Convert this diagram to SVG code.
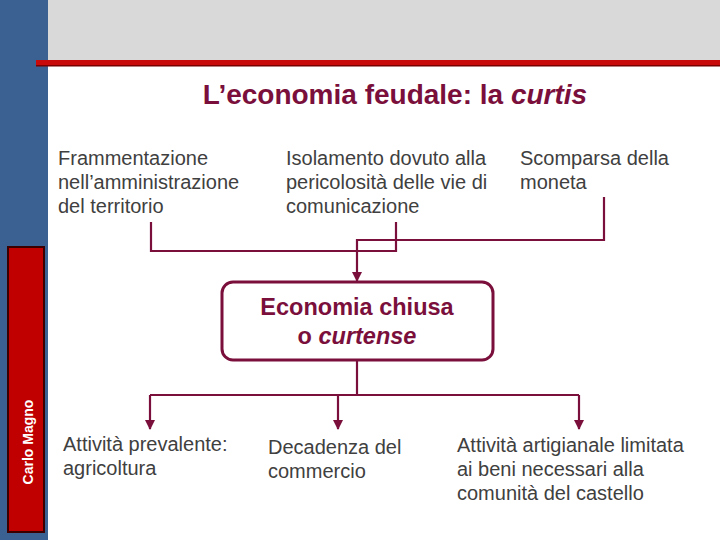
<svg xmlns="http://www.w3.org/2000/svg" width="720" height="540" viewBox="0 0 720 540">
<defs>
<style>
.t{font-family:"Liberation Sans",Arial,sans-serif;font-size:20px;fill:#404040}
.m{fill:#7a0f3c}
.c{fill:none;stroke:#7a0f3c;stroke-width:2.2}
</style>
<marker id="ah" viewBox="0 0 10 10" refX="9" refY="5" markerWidth="10" markerHeight="10" markerUnits="userSpaceOnUse" orient="auto">
<path d="M0,0 L10,5 L0,10 Z" fill="#7a0f3c"/>
</marker>
</defs>
<rect width="720" height="540" fill="#ffffff"/>
<g id="frame">
<rect x="0" y="0" width="48" height="540" fill="#3a6191"/>
<rect x="48" y="0" width="672" height="61" fill="#d9d9d9"/>
<rect x="36" y="60" width="684" height="6" fill="#c80a0a"/>
<rect x="36" y="65" width="684" height="1.5" fill="#7a0000"/>
<rect x="8" y="247" width="36" height="285" fill="#c00000" stroke="#3a0000" stroke-width="2"/>
<text x="0" y="0" transform="translate(33,442) rotate(-90)" text-anchor="middle" font-family="'Liberation Sans',Arial,sans-serif" font-size="14" font-weight="bold" fill="#ffffff">Carlo Magno</text>
</g>
<g id="title">
<text x="395" y="104" text-anchor="middle" font-family="'Liberation Sans',Arial,sans-serif" font-size="28" font-weight="bold" class="m">L’economia feudale: la <tspan font-style="italic">curtis</tspan></text>
</g>
<g id="connectors">
<polyline class="c" points="151,222 151,251 396,251 396,222"/>
<polyline class="c" points="604,197 604,240 357,240 357,281" marker-end="url(#ah)"/>
<line class="c" x1="357" y1="360" x2="357" y2="395"/>
<line class="c" x1="150" y1="395" x2="579" y2="395"/>
<line class="c" x1="150" y1="395" x2="150" y2="429" marker-end="url(#ah)"/>
<line class="c" x1="338" y1="395" x2="338" y2="429" marker-end="url(#ah)"/>
<line class="c" x1="579" y1="395" x2="579" y2="429" marker-end="url(#ah)"/>
</g>
<g id="n1">
<text class="t" x="58" y="165">Frammentazione</text>
<text class="t" x="58" y="189">nell’amministrazione</text>
<text class="t" x="58" y="213">del territorio</text>
</g>
<g id="n2">
<text class="t" x="286" y="165">Isolamento dovuto alla</text>
<text class="t" x="286" y="189">pericolosità delle vie di</text>
<text class="t" x="286" y="213">comunicazione</text>
</g>
<g id="n3">
<text class="t" x="520" y="165">Scomparsa della</text>
<text class="t" x="520" y="189">moneta</text>
</g>
<g id="center">
<rect x="222" y="282" width="271" height="78" rx="11" ry="11" fill="#ffffff" stroke="#7a0f3c" stroke-width="3"/>
<text x="357" y="315" text-anchor="middle" font-family="'Liberation Sans',Arial,sans-serif" font-size="23.5" font-weight="bold" class="m">Economia chiusa</text>
<text x="357" y="344" text-anchor="middle" font-family="'Liberation Sans',Arial,sans-serif" font-size="23.5" font-weight="bold" class="m">o <tspan font-style="italic">curtense</tspan></text>
</g>
<g id="b1">
<text class="t" x="63" y="451">Attività prevalente:</text>
<text class="t" x="63" y="475">agricoltura</text>
</g>
<g id="b2">
<text class="t" x="268" y="454">Decadenza del</text>
<text class="t" x="268" y="478">commercio</text>
</g>
<g id="b3">
<text class="t" x="457" y="452">Attività artigianale limitata</text>
<text class="t" x="457" y="476">ai beni necessari alla</text>
<text class="t" x="457" y="500">comunità del castello</text>
</g>
</svg>
